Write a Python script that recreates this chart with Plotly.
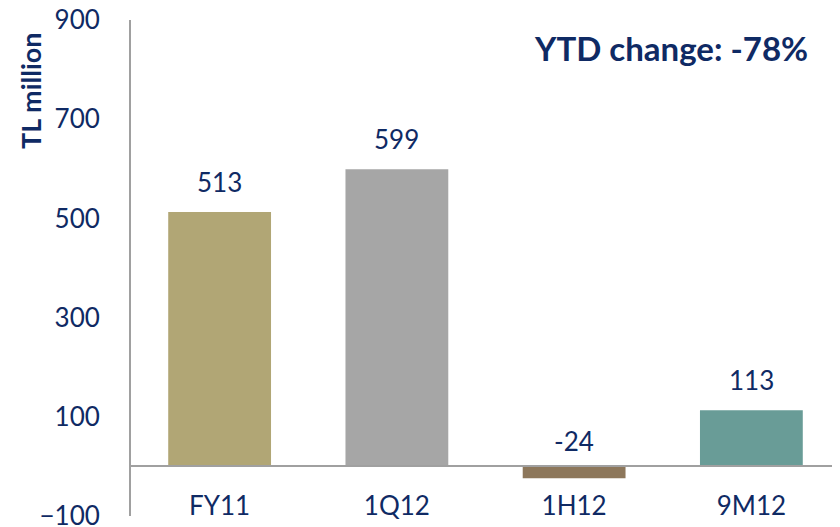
import plotly.graph_objects as go

categories = ["FY11", "1Q12", "1H12", "9M12"]
values = [513, 599, -24, 113]
bar_colors = ["#b1a675", "#a6a6a6", "#8d775b", "#699c97"]
y_ticks = [-100, 100, 300, 500, 700, 900]
y_title = "TL million"
note = "YTD change: -78%"

navy = "#0f2a64"
font_family = "Lato, 'Open Sans', sans-serif"

# page has an 8px body margin; compensate so the plot lands where the reference has it
OFF = 8

fig = go.Figure()
fig.add_trace(go.Bar(
    x=categories, y=values, marker_color=bar_colors, marker_line_width=0,
    hoverinfo="skip", showlegend=False,
))

for c, v in zip(categories, values):
    fig.add_annotation(x=c, y=max(v, 0), text=str(v), showarrow=False,
                       yshift=30 if v >= 0 else 25, xref="x", yref="y",
                       font=dict(size=26, color=navy, family=font_family))

fig.add_annotation(x=-0.141, y=0.857, xref="paper", yref="paper", text=f"<b>{y_title}</b>",
                   textangle=-90, showarrow=False, xanchor="center", yanchor="middle",
                   font=dict(size=27, color=navy, family=font_family))
fig.add_annotation(x=0.958, y=0.944, xref="paper", yref="paper", text=f"<b>{note}</b>",
                   showarrow=False, xanchor="right", yanchor="middle",
                   font=dict(size=33, color=navy, family=font_family))

fig.update_layout(
    width=840 - OFF, height=527 - OFF,
    margin=dict(l=131 - OFF, r=0, t=20 - OFF, b=11, autoexpand=False),
    paper_bgcolor="white", plot_bgcolor="white",
    bargap=0.42,
    font=dict(family=font_family, color=navy, size=26),
    xaxis=dict(anchor="free", position=0.1, showline=True, linecolor="#a0a0a0",
               linewidth=2, ticks="", showgrid=False, zeroline=False, automargin=False,
               ticklabelstandoff=16, tickfont=dict(size=26, color=navy)),
    yaxis=dict(range=[-100, 900], tickvals=y_ticks, showgrid=False, zeroline=False,
               showline=True, linecolor="#a0a0a0", linewidth=2, ticks="", automargin=False,
               ticklabeloverflow="allow",
               ticklabelstandoff=24, tickfont=dict(size=26, color=navy)),
)

fig.write_html("out.html")
